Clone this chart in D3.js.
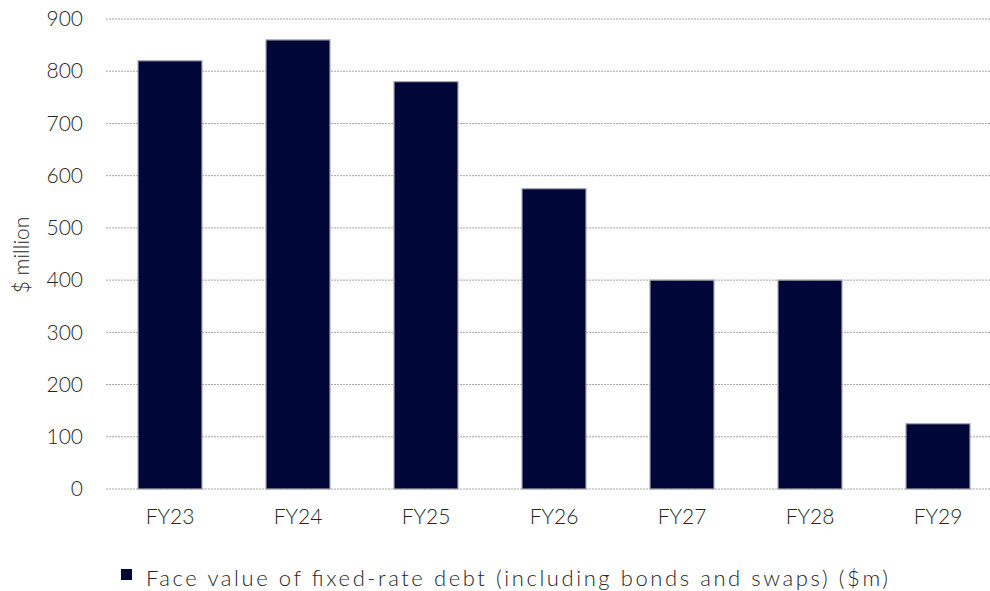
<!DOCTYPE html>
<html>
<head>
<meta charset="utf-8">
<script src="https://cdn.jsdelivr.net/npm/d3@7/dist/d3.min.js"></script>
<style>
  html, body { margin: 0; padding: 0; background: #fff; }
  svg { display: block; }
  text { font-family: "Lato", "Open Sans", sans-serif; font-weight: 300; fill: #262626; }
</style>
</head>
<body>
<svg id="chart" width="990" height="591"></svg>
<script>
const categories = ["FY23", "FY24", "FY25", "FY26", "FY27", "FY28", "FY29"];
const values = [820, 860, 780, 575, 400, 400, 125];
const yTicks = [0, 100, 200, 300, 400, 500, 600, 700, 800, 900];
const seriesName = "Face value of fixed-rate debt (including bonds and swaps) ($m)";
const yAxisTitle = "$ million";

const svg = d3.select("#chart");
const W = 990, H = 591;
const FONT = "Lato, 'Open Sans', sans-serif";

const x = d3.scaleBand().domain(categories).range([106, 1002]).paddingInner(0.5).paddingOuter(0.25);
const y = d3.scaleLinear().domain([0, 900]).range([489, 19]);

// gridlines
svg.append("g").selectAll("line").data(yTicks).join("line")
  .attr("x1", 106).attr("x2", W)
  .attr("y1", d => y(d)).attr("y2", d => y(d))
  .attr("stroke", "#a6a6a6").attr("stroke-width", 1)
  .attr("stroke-dasharray", "2,1");

// bars
svg.append("g").selectAll("rect").data(values).join("rect")
  .attr("x", (d, i) => x(categories[i]))
  .attr("y", d => y(d))
  .attr("width", x.bandwidth())
  .attr("height", d => y(0) - y(d))
  .attr("fill", "#000638")
  .attr("stroke", "#a6a6a6")
  .attr("stroke-width", 1.2);

// y axis
const yAxis = d3.axisLeft(y).tickValues(yTicks).tickSize(0).tickPadding(0);
const gy = svg.append("g").attr("transform", "translate(83,0)").call(yAxis);
gy.select(".domain").remove();
gy.selectAll("text").style("font-size", "21px").attr("fill", "#262626")
  .style("font-family", FONT).style("font-weight", 300);

// x axis
const xAxis = d3.axisBottom(x).tickSize(0).tickPadding(0);
const gx = svg.append("g").attr("transform", "translate(0,509)").call(xAxis);
gx.select(".domain").remove();
gx.selectAll("text").style("font-size", "21px").attr("fill", "#262626")
  .style("font-family", FONT).style("font-weight", 300);

// y title
svg.append("text")
  .attr("transform", "translate(29,255) rotate(-90)")
  .attr("text-anchor", "middle")
  .style("font-size", "21px")
  .text(yAxisTitle);

// legend
svg.append("rect").attr("x", 121).attr("y", 569).attr("width", 11).attr("height", 11)
  .attr("fill", "#000638");
svg.append("text").attr("x", 146).attr("y", 586)
  .style("font-size", "22px")
  .attr("textLength", 742)
  .attr("lengthAdjust", "spacing")
  .text(seriesName);
</script>
</body>
</html>
